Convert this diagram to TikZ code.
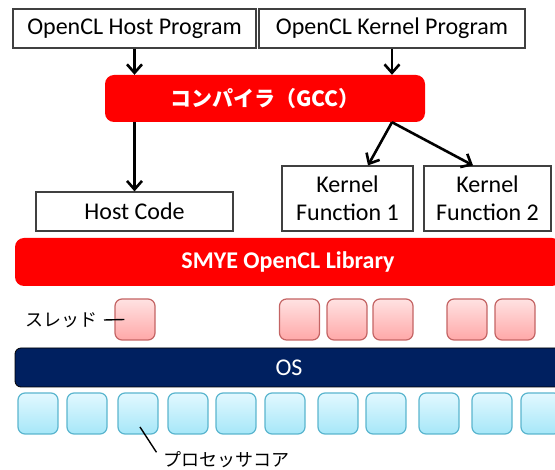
\documentclass[tikz,border=0pt]{standalone}
\usepackage{fontspec}
\setmainfont{Carlito}
\newfontfamily\jpfont{Noto Sans CJK JP}
\usepackage{xcolor}
\usepackage{tikz}
\usetikzlibrary{arrows.meta}
\definecolor{SMRed}{HTML}{FF0000}
\definecolor{SMNavy}{HTML}{002060}
\definecolor{SMEdge}{HTML}{404040}
\definecolor{ThTop}{HTML}{FFE2E2}
\definecolor{ThBot}{HTML}{FFA8A8}
\definecolor{ThLine}{HTML}{C46464}
\definecolor{CoTop}{HTML}{E2F8FF}
\definecolor{CoBot}{HTML}{A6E7F8}
\definecolor{CoLine}{HTML}{5AB5CE}
\newcommand\fsL{\fontsize{24}{28}\selectfont}
\newcommand\fsJ{\fontsize{18}{22}\selectfont\jpfont}

\begin{document}
\begin{tikzpicture}[x=1pt,y=-1pt,
  box/.style={draw=SMEdge,line width=1.2pt,fill=white,inner sep=0pt,align=center,font=\fsL},
  redbar/.style={fill=SMRed,rounded corners=9pt,inner sep=0pt,text=white},
  thread/.style={draw=ThLine,line width=1.2pt,top color=ThTop,bottom color=ThBot,rounded corners=7pt,minimum width=40pt,minimum height=41pt,inner sep=0pt},
  core/.style={draw=CoLine,line width=1.2pt,top color=CoTop,bottom color=CoBot,rounded corners=7pt,minimum width=40pt,minimum height=41pt,inner sep=0pt},
  arr/.style={line width=2.6pt,-{Straight Barb[length=8.5pt,width=15pt]}}]
\path[use as bounding box] (0,0) rectangle (555,470);
% sources
\node[box,minimum width=243pt,minimum height=39pt] (hostprog) at (134.5,28.5) {OpenCL Host Program};
\node[box,minimum width=266pt,minimum height=39pt] (kernprog) at (392,28.5) {OpenCL Kernel Program};
\node[redbar,minimum width=320pt,minimum height=47pt,font=\fontsize{21}{25}\selectfont\jpfont\bfseries] (compiler) at (265,98.5) {コンパイラ（GCC）};
% outputs
\node[box,minimum width=197pt,minimum height=39pt] (hostcode) at (134.5,211.5) {Host Code};
\node[box,minimum width=131pt,minimum height=65pt] (kfunc1) at (347.5,198.5) {Kernel\\Function 1};
\node[box,minimum width=127pt,minimum height=65pt] (kfunc2) at (487.5,198.5) {Kernel\\Function 2};
\draw[arr] (hostprog.south) -- (hostprog.south |- compiler.north);
\draw[arr] (kernprog.south) -- (kernprog.south |- compiler.north);
\draw[arr] (hostcode.north |- compiler.south) -- (hostcode.north);
\coordinate (split) at (kernprog.south |- compiler.south);
\draw[arr] (split) -- ([xshift=20.5pt]kfunc1.north);
\draw[arr] (split) -- ([xshift=-14.5pt]kfunc2.north);
% runtime
\node[redbar,minimum width=546pt,minimum height=48pt,font=\fsL\bfseries] (library) at (288,262) {SMYE OpenCL Library};
\node[thread] (th1) at (135,319.5) {};
\node[thread] (th2) at (299.5,319.5) {};
\node[thread] (th3) at (347,319.5) {};
\node[thread] (th4) at (393,319.5) {};
\node[thread] (th5) at (467,319.5) {};
\node[thread] (th6) at (515,319.5) {};
\node[font=\fsJ] (thlabel) at (61,320) {スレッド};
\coordinate (thtick) at (104,320);
\draw[line width=1.4pt] (thtick) -- ([xshift=10pt]th1.west);
\node[draw=black,line width=0.8pt,fill=SMNavy,rounded corners=6pt,minimum width=548pt,minimum height=39pt,inner sep=0pt,text=white,font=\fsL] (os) at (289,367.5) {OS};
\node[core] (core1) at (38,413.5) {};
\node[core] (core2) at (87,413.5) {};
\node[core] (core3) at (138,413.5) {};
\node[core] (core4) at (188,413.5) {};
\node[core] (core5) at (236,413.5) {};
\node[core] (core6) at (285,413.5) {};
\node[core] (core7) at (338,413.5) {};
\node[core] (core8) at (386,413.5) {};
\node[core] (core9) at (439,413.5) {};
\node[core] (core10) at (492,413.5) {};
\node[core] (core11) at (541,413.5) {};
\node[font=\fsJ] (corelabel) at (226,460) {プロセッサコア};
\coordinate (coretick) at (140,427);
\draw[line width=1.4pt] (coretick) -- ([xshift=-3pt,yshift=-4pt]corelabel.north west);
\end{tikzpicture}
\end{document}
